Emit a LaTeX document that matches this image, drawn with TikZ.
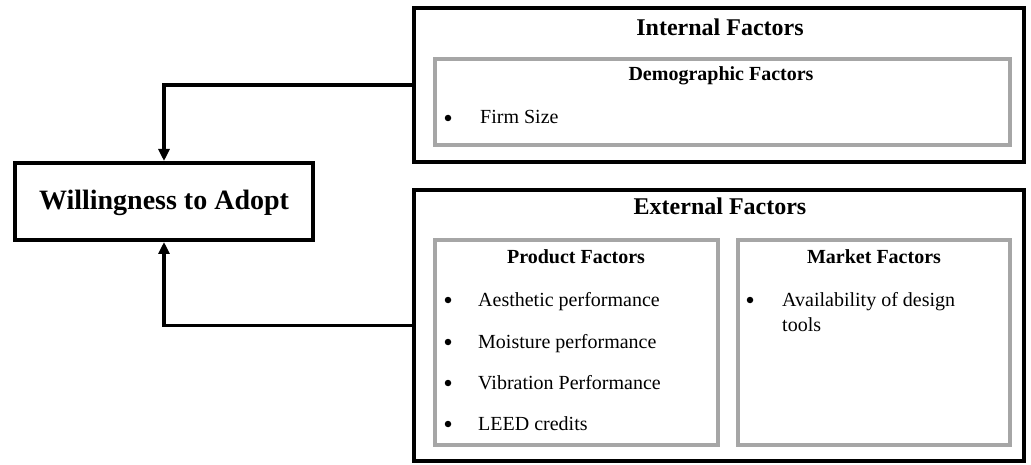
\documentclass[tikz,border=0pt]{standalone}
\usepackage{fontspec}
\setmainfont{Liberation Serif}
\usetikzlibrary{arrows.meta}
\definecolor{framegray}{HTML}{A6A6A6}
\tikzset{
  outerbox/.style={draw=black,line width=4pt,rectangle,inner sep=0pt},
  innerbox/.style={draw=framegray,line width=4pt,rectangle,inner sep=0pt},
  maintitle/.style={font=\fontsize{28}{32}\selectfont\bfseries,inner sep=0pt,anchor=base},
  grouptitle/.style={font=\fontsize{24}{28}\selectfont\bfseries,inner sep=0pt,anchor=base},
  subtitle/.style={font=\fontsize{20}{24}\selectfont\bfseries,inner sep=0pt,anchor=base},
  item/.style={font=\fontsize{20}{25}\selectfont,inner sep=0pt,anchor=base west,align=left},
  dot/.style={circle,fill=black,inner sep=0pt,minimum size=6.5pt},
  link/.style={line width=3.5pt,-{Triangle[width=11pt,length=12pt]}}
}
\begin{document}
\begin{tikzpicture}[x=1pt,y=-1pt]
\useasboundingbox (0,0) rectangle (1031,465);

% target
\node[outerbox,minimum width=298pt,minimum height=77pt] (will) at (164,201.5) {};
\node[maintitle] (willtext) at (164,210) {Willingness to Adopt};

% internal factors
\node[outerbox,minimum width=610pt,minimum height=154pt] (internal) at (719,85) {};
\node[grouptitle] (inttitle) at (720,36) {Internal Factors};
\node[innerbox,minimum width=575pt,minimum height=86pt] (demo) at (722.5,102) {};
\node[subtitle] (demotitle) at (721,81) {Demographic Factors};
\node[dot] (d1) at (448,118) {};
\node[item] (t1) at (480,124) {Firm Size};

% external factors
\node[outerbox,minimum width=610pt,minimum height=271pt] (external) at (719,325.5) {};
\node[grouptitle] (exttitle) at (720,215) {External Factors};
\node[innerbox,minimum width=283pt,minimum height=205pt] (product) at (576.5,342.5) {};
\node[subtitle] (prodtitle) at (576,263) {Product Factors};
\node[innerbox,minimum width=272pt,minimum height=205pt] (market) at (874,342.5) {};
\node[subtitle] (marktitle) at (874,263) {Market Factors};

\node[dot] (p1) at (448,300) {};
\node[item] (pt1) at (478,306) {Aesthetic performance};
\node[dot] (p2) at (448,342) {};
\node[item] (pt2) at (478,348) {Moisture performance};
\node[dot] (p3) at (448,383) {};
\node[item] (pt3) at (478,389) {Vibration Performance};
\node[dot] (p4) at (448,424) {};
\node[item] (pt4) at (478,430) {LEED credits};

% two-line item: the base anchor sits on the last line
\node[dot] (m1) at (750,300) {};
\node[item] (mt1) at (782,331) {Availability of design\\tools};

% connectors
\draw[link] (internal.west) -| (will.north);
\draw[link] (external.west) -| (will.south);
\end{tikzpicture}
\end{document}
